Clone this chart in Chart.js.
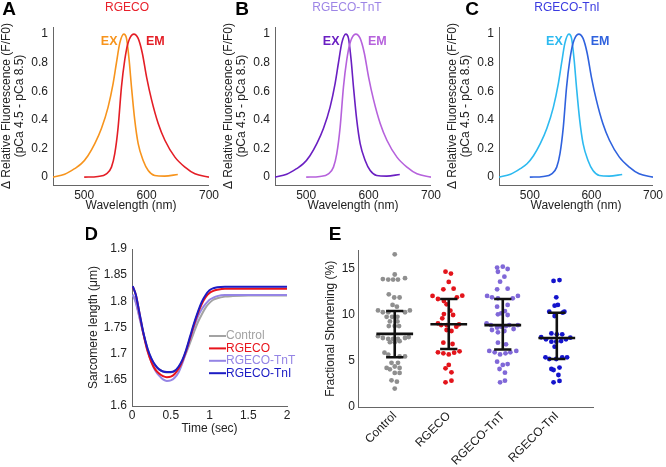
<!DOCTYPE html>
<html>
<head>
<meta charset="utf-8">
<script src="https://cdn.jsdelivr.net/npm/chart.js@4.4.1/dist/chart.umd.min.js"></script>
<style>
  html, body { margin: 0; padding: 0; background: #fff; }
  #fig { position: relative; width: 666px; height: 467px; overflow: hidden; }
  #fig canvas { position: absolute; }
</style>
</head>
<body>
<div id="fig">
  <canvas id="cA" width="222" height="220" style="left:0;top:0"></canvas>
  <canvas id="cB" width="222" height="220" style="left:222px;top:0"></canvas>
  <canvas id="cC" width="220" height="220" style="left:446px;top:0"></canvas>
  <canvas id="cD" width="215" height="218" style="left:86px;top:222px"></canvas>
  <canvas id="cE" width="290" height="245" style="left:323px;top:222px"></canvas>
</div>
<script>
/* ---------------- data ---------------- */

// A–C: excitation / emission spectra (same shape for all three sensors)
const exWavelength = [450, 468.7, 484.8, 495.5, 506, 517, 527.6, 538.3, 546.4, 551.7, 557, 563.5, 567.8, 572, 575.8, 581, 586.5, 594.5, 602.6, 613, 629, 650];
const exRelative   = [0, 0.02, 0.06, 0.094, 0.15, 0.234, 0.34, 0.49, 0.656, 0.80, 0.937, 1.0, 0.97, 0.82, 0.63, 0.40, 0.234, 0.117, 0.047, 0.012, 0.007, 0.019];
const emWavelength = [500, 522, 535.6, 543.7, 549, 554.4, 559.7, 565, 570.4, 579.5, 586.5, 593, 600, 608, 618.6, 629.3, 645.4, 661.5, 677.5, 700];
const emRelative   = [0, 0.005, 0.023, 0.07, 0.164, 0.35, 0.63, 0.82, 0.94, 1.0, 0.97, 0.87, 0.70, 0.54, 0.375, 0.258, 0.14, 0.07, 0.023, 0];
const wavelengthTicks = [500, 600, 700];
const fluorTicks = [0, 0.2, 0.4, 0.6, 0.8, 1];

// D: sarcomere length transients
const groupNames = ['Control', 'RGECO', 'RGECO-TnT', 'RGECO-TnI'];
const timeSec = [0.01, 0.05, 0.1, 0.15, 0.2, 0.25, 0.3, 0.35, 0.4, 0.45, 0.5, 0.55, 0.6, 0.65, 0.7, 0.75, 0.8, 0.85, 0.9, 0.95, 1.0, 1.05, 1.1, 1.2, 1.3, 1.5, 1.75, 2.0];
const slControl = [1.812, 1.799, 1.768, 1.737, 1.710, 1.690, 1.677, 1.670, 1.666, 1.664, 1.664, 1.667, 1.674, 1.686, 1.702, 1.721, 1.741, 1.760, 1.775, 1.788, 1.797, 1.803, 1.806, 1.809, 1.810, 1.811, 1.811, 1.811];
const slRGECO   = [1.828, 1.812, 1.774, 1.736, 1.705, 1.684, 1.670, 1.662, 1.657, 1.655, 1.656, 1.661, 1.671, 1.686, 1.706, 1.730, 1.755, 1.777, 1.795, 1.808, 1.816, 1.820, 1.822, 1.824, 1.824, 1.824, 1.824, 1.824];
const slTnT     = [1.813, 1.797, 1.766, 1.736, 1.707, 1.684, 1.668, 1.658, 1.651, 1.648, 1.649, 1.654, 1.664, 1.682, 1.704, 1.728, 1.751, 1.771, 1.785, 1.795, 1.803, 1.807, 1.810, 1.812, 1.812, 1.812, 1.812, 1.812];
const slTnI     = [1.829, 1.812, 1.775, 1.738, 1.710, 1.691, 1.678, 1.670, 1.666, 1.665, 1.665, 1.667, 1.675, 1.688, 1.708, 1.733, 1.758, 1.780, 1.799, 1.812, 1.821, 1.825, 1.827, 1.828, 1.828, 1.828, 1.828, 1.828];
const slTicks   = [1.6, 1.65, 1.7, 1.75, 1.8, 1.85, 1.9];
const timeTicks = [0, 0.5, 1, 1.5, 2];

// E: fractional shortening per cell (%) and the horizontal scatter of each dot
const fsControl = [16.6, 14.4, 13.9, 13.85, 13.85, 13.85, 14.0, 12.25, 11.9, 11.9, 11.1, 10.9, 10.5, 10.3, 10.3, 10.3, 10.5, 9.8, 9.8, 9.8, 9.3, 9.3, 8.8, 8.8, 8.8, 7.7, 7.5, 7.4, 7.4, 7.4, 7.5, 7.6, 7.05, 7.05, 7.15, 5.9, 5.7, 5.5, 5.5, 4.8, 4.8, 4.25, 4.1, 4.4, 4.25, 3.7, 3.7, 2.9, 2.75, 2.0];
const jitControl = [0, 0, -0.22, -0.12, -0.03, 0.06, 0.19, -0.11, -0.01, 0.09, -0.04, 0.04, -0.31, -0.22, -0.12, 0.19, 0.28, -0.15, -0.05, 0.05, -0.09, 0.05, -0.11, 0, 0.08, -0.31, -0.22, -0.12, -0.03, 0.06, 0.19, 0.26, -0.09, 0, 0.09, -0.19, -0.12, 0.09, 0.19, -0.06, 0.06, -0.15, -0.09, 0, 0.09, 0, 0.09, -0.06, 0.04, 0];
const fsRGECO = [14.71, 14.5, 13.6, 12.79, 12.86, 12.07, 11.74, 11.52, 11.92, 12.1, 11.16, 10.47, 10.1, 10.0, 9.64, 9.09, 8.91, 8.73, 8.99, 8.91, 8.37, 8.26, 6.99, 6.85, 5.94, 5.83, 5.72, 5.91, 6.05, 4.57, 4.2, 3.77, 2.68, 2.86];
const jitRGECO = [-0.06, 0.04, 0, -0.1, 0.09, -0.3, -0.2, -0.09, 0.15, 0.25, -0.04, 0.03, -0.09, 0.08, -0.12, -0.2, -0.14, 0.14, 0.19, -0.04, -0.04, 0.05, -0.1, 0.07, -0.2, -0.1, 0, 0.1, 0.2, 0, -0.06, 0.05, -0.06, 0.05];
const fsTnT = [15.15, 15.25, 15.0, 14.7, 14.17, 13.62, 12.79, 12.86, 12.07, 11.92, 11.81, 11.81, 12.07, 10.9, 11.09, 10.43, 10.07, 10.18, 10.0, 9.09, 8.91, 8.62, 8.73, 8.8, 8.91, 8.48, 8.91, 8.37, 8.12, 8.26, 6.99, 6.81, 6.09, 5.94, 5.72, 5.83, 5.94, 6.09, 4.93, 4.57, 4.67, 4.13, 3.73, 2.68, 2.86];
const jitTnT = [-0.105, 0, 0.09, -0.09, 0.03, -0.05, -0.105, 0.09, -0.29, -0.2, -0.09, 0.185, 0.28, -0.105, 0.09, 0.04, -0.09, -0.03, 0.09, -0.3, -0.22, -0.105, -0.03, 0.06, 0.12, 0.2, 0.28, -0.2, -0.09, 0.03, -0.09, 0.06, -0.25, -0.15, -0.05, 0.05, 0.14, 0.25, -0.105, 0, 0.09, -0.06, 0.04, -0.05, 0.04];
const fsTnI = [13.7, 13.8, 11.92, 11.01, 11.09, 10.36, 9.89, 10.25, 10.36, 8.0, 7.9, 7.9, 7.58, 7.36, 7.1, 7.1, 7.17, 7.36, 7.54, 6.56, 5.4, 5.22, 5.22, 5.4, 5.4, 4.13, 4.02, 4.28, 3.48, 2.68, 2.83];
const jitTnI = [-0.06, 0.05, -0.01, -0.04, 0.02, -0.14, -0.04, 0.11, 0.14, -0.1, 0, 0.1, -0.29, -0.2, -0.1, -0.01, 0.08, 0.17, 0.25, -0.04, -0.21, -0.14, -0.01, 0.1, 0.19, -0.1, -0.06, 0.05, 0.03, -0.06, 0.05];
const fsMean = [7.95, 9.0, 8.9, 7.5];
const fsSdLow = [5.4, 6.3, 6.25, 5.22];
const fsSdHigh = [10.43, 11.74, 11.74, 10.25];
const fsTicks = [0, 5, 10, 15];

/* ---------------- shared helpers ---------------- */
const FONT = '"Liberation Sans", Arial, sans-serif';
Chart.defaults.font.family = FONT;
Chart.defaults.font.size = 12;
Chart.defaults.color = '#222';

const toXY = (xs, ys) => xs.map((x, i) => ({ x: x, y: ys[i] }));
const fixTicks = list => scale => { scale.ticks = list.map(v => ({ value: v })); };
const fixSize = size => scale => { if (scale.isHorizontal()) scale.height = size; else scale.width = size; };

// panel letter, panel title and in-plot text labels (data coords)
const panelText = {
  id: 'panelText',
  afterDraw(chart, args, opts) {
    const ctx = chart.ctx;
    ctx.save();
    ctx.textAlign = 'center';
    ctx.textBaseline = 'middle';
    if (opts.letter) {
      ctx.font = 'bold 19px ' + FONT;
      ctx.fillStyle = '#000';
      ctx.fillText(opts.letter[0], opts.letter[1], opts.letter[2]);
    }
    if (opts.title) {
      ctx.font = '12px ' + FONT;
      ctx.fillStyle = opts.title[3];
      ctx.fillText(opts.title[0], opts.title[1], opts.title[2]);
    }
    (opts.marks || []).forEach(m => {
      ctx.font = 'bold 12.5px ' + FONT;
      ctx.fillStyle = m.color;
      ctx.fillText(m.text, chart.scales.x.getPixelForValue(m.x), chart.scales.y.getPixelForValue(m.y));
    });
    ctx.restore();
  }
};

// legend drawn inside the plot (panel D)
const innerLegend = {
  id: 'innerLegend',
  afterDraw(chart, args, opts) {
    if (!opts.show) return;
    const ctx = chart.ctx, a = chart.chartArea;
    ctx.save();
    ctx.font = '12px ' + FONT;
    ctx.textBaseline = 'middle';
    const items = chart.data.datasets.slice().sort((p, q) => p.legendRank - q.legendRank);
    items.forEach((ds, i) => {
      const y = a.top + 87 + i * 12.4;
      const x0 = a.left + 77;
      ctx.strokeStyle = ds.borderColor;
      ctx.lineWidth = 2;
      ctx.beginPath(); ctx.moveTo(x0, y); ctx.lineTo(x0 + 17, y); ctx.stroke();
      ctx.fillStyle = ds.borderColor;
      ctx.fillText(ds.label, x0 + 17, y);
    });
    ctx.restore();
  }
};

const axisLine = { display: true, color: '#666', width: 1 };
const noGrid = { display: false, drawTicks: false };

/* ---------------- A–C spectra ---------------- */
function spectrum(id, letter, letterX, title, titleX, titleColor, exColor, emColor, rightPad) {
  new Chart(document.getElementById(id), {
    type: 'line',
    data: {
      datasets: [
        { label: 'EM', data: toXY(emWavelength, emRelative), borderColor: emColor, borderWidth: 1.6,
          pointRadius: 0, cubicInterpolationMode: 'monotone', fill: false },
        { label: 'EX', data: toXY(exWavelength, exRelative), borderColor: exColor, borderWidth: 1.6,
          pointRadius: 0, cubicInterpolationMode: 'monotone', fill: false }
      ]
    },
    options: {
      responsive: false, animation: false, events: [],
      layout: { padding: { top: 27, right: rightPad, bottom: 7, left: 0 } },
      plugins: {
        legend: { display: false }, tooltip: { enabled: false },
        panelText: {
          letter: [letter, letterX, 10],
          title: [title, titleX, 8, titleColor],
          marks: [ { text: 'EX', x: 540, y: 0.95, color: exColor },
                   { text: 'EM', x: 614, y: 0.945, color: emColor } ]
        }
      },
      scales: {
        x: { type: 'linear', min: 450, max: 700, grid: noGrid, border: axisLine,
             afterBuildTicks: fixTicks(wavelengthTicks), afterFit: fixSize(28),
             ticks: { padding: 3, color: '#222', font: { size: 12 } },
             title: { display: true, text: 'Wavelength (nm)', color: '#222', padding: 0, font: { size: 12 } } },
        y: { type: 'linear', min: -0.055, max: 1.05, grid: noGrid, border: axisLine,
             afterBuildTicks: fixTicks(fluorTicks), afterFit: fixSize(53),
             ticks: { padding: 5, color: '#222', callback: v => String(+v.toFixed(1)) },
             title: { display: true, text: ['\u0394 Relative Fluorescence (F/F0)', '(pCa 4.5 - pCa 8.5)'],
                      color: '#222', padding: 0, font: { size: 12, lineHeight: 1.1 } } }
      }
    },
    plugins: [panelText]
  });
}
spectrum('cA', 'A', 9, 'RGECO', 127, '#e8202a', '#f7941d', '#e41e26', 13);
spectrum('cB', 'B', 20, 'RGECO-TnT', 125, '#9d85e6', '#6a1fc2', '#b662dc', 13);
spectrum('cC', 'C', 26, 'RGECO-TnI', 121, '#3a3ae0', '#2dbaf0', '#2f62de', 10);

/* ---------------- D sarcomere length ---------------- */
const slColors = ['#a3a3a3', '#e8141c', '#9585e5', '#1c1cc4'];
const slSeries = [slControl, slRGECO, slTnT, slTnI];
const drawOrder = [3, 1, 2, 0];
new Chart(document.getElementById('cD'), {
  type: 'line',
  data: {
    datasets: slSeries.map((s, i) => ({
      label: groupNames[i], legendRank: i, order: drawOrder[i],
      data: toXY(timeSec, s), borderColor: slColors[i], borderWidth: 2,
      pointRadius: 0, cubicInterpolationMode: 'monotone', fill: false
    }))
  },
  options: {
    responsive: false, animation: false, events: [],
    layout: { padding: { top: 27, right: 14, bottom: 4.5, left: 0 } },
    plugins: {
      legend: { display: false }, tooltip: { enabled: false },
      panelText: { letter: ['D', 5, 13] },
      innerLegend: { show: true }
    },
    scales: {
      x: { type: 'linear', min: 0, max: 2, grid: noGrid, border: axisLine,
           afterBuildTicks: fixTicks(timeTicks), afterFit: fixSize(29.5),
           ticks: { padding: 2, color: '#222', callback: v => String(v) },
           title: { display: true, text: 'Time (sec)', color: '#222', padding: 0 } },
      y: { type: 'linear', min: 1.6, max: 1.9, grid: noGrid, border: axisLine,
           afterBuildTicks: fixTicks(slTicks), afterFit: fixSize(46),
           ticks: { padding: 5, color: '#222', callback: v => String(+v.toFixed(2)) },
           title: { display: true, text: 'Sarcomere length (\u03bcm)', color: '#222', padding: 0 } }
    }
  },
  plugins: [panelText, innerLegend]
});

/* ---------------- E fractional shortening ---------------- */
const fsColors = ['#8f8f8f', '#e3141b', '#8068d8', '#1414cc'];
const fsValues = [fsControl, fsRGECO, fsTnT, fsTnI];
const fsJitter = [jitControl, jitRGECO, jitTnT, jitTnI];

const barPts = [];
fsMean.forEach((m, i) => {
  const lo = fsSdLow[i], hi = fsSdHigh[i];
  barPts.push({ x: i - 0.34, y: m }, { x: i + 0.34, y: m }, { x: i, y: null },
              { x: i, y: lo }, { x: i, y: hi }, { x: i, y: null },
              { x: i - 0.16, y: hi }, { x: i + 0.16, y: hi }, { x: i, y: null },
              { x: i - 0.16, y: lo }, { x: i + 0.16, y: lo }, { x: i, y: null });
});

new Chart(document.getElementById('cE'), {
  type: 'line',
  data: {
    datasets: [
      { label: 'mean ± SD', data: barPts, borderColor: '#111', borderWidth: 2.6, pointRadius: 0,
        spanGaps: false, fill: false, order: -1 }
    ].concat(fsValues.map((vals, i) => ({
      label: groupNames[i],
      data: vals.map((v, k) => ({ x: i + fsJitter[i][k], y: v })),
      showLine: false, pointRadius: 2.4, pointBorderWidth: 0,
      pointBackgroundColor: fsColors[i], borderColor: fsColors[i]
    })))
  },
  options: {
    responsive: false, animation: false, events: [],
    layout: { padding: { top: 28.6, right: 20, bottom: 0, left: 0 } },
    plugins: {
      legend: { display: false }, tooltip: { enabled: false },
      panelText: { letter: ['E', 12, 13] }
    },
    scales: {
      x: { type: 'linear', min: -0.68, max: 3.67, grid: noGrid, border: axisLine,
           afterBuildTicks: fixTicks([0, 1, 2, 3]), afterFit: fixSize(60),
           ticks: { padding: 2, color: '#222', minRotation: 45, maxRotation: 45, autoSkip: false,
                    callback: v => groupNames[v] } },
      y: { type: 'linear', min: 0, max: 17, grid: noGrid, border: axisLine,
           afterBuildTicks: fixTicks(fsTicks), afterFit: fixSize(35),
           ticks: { padding: 3, color: '#222' },
           title: { display: true, text: 'Fractional Shortening (%)', color: '#222', padding: 0 } }
    }
  },
  plugins: [panelText]
});
</script>
</body>
</html>
